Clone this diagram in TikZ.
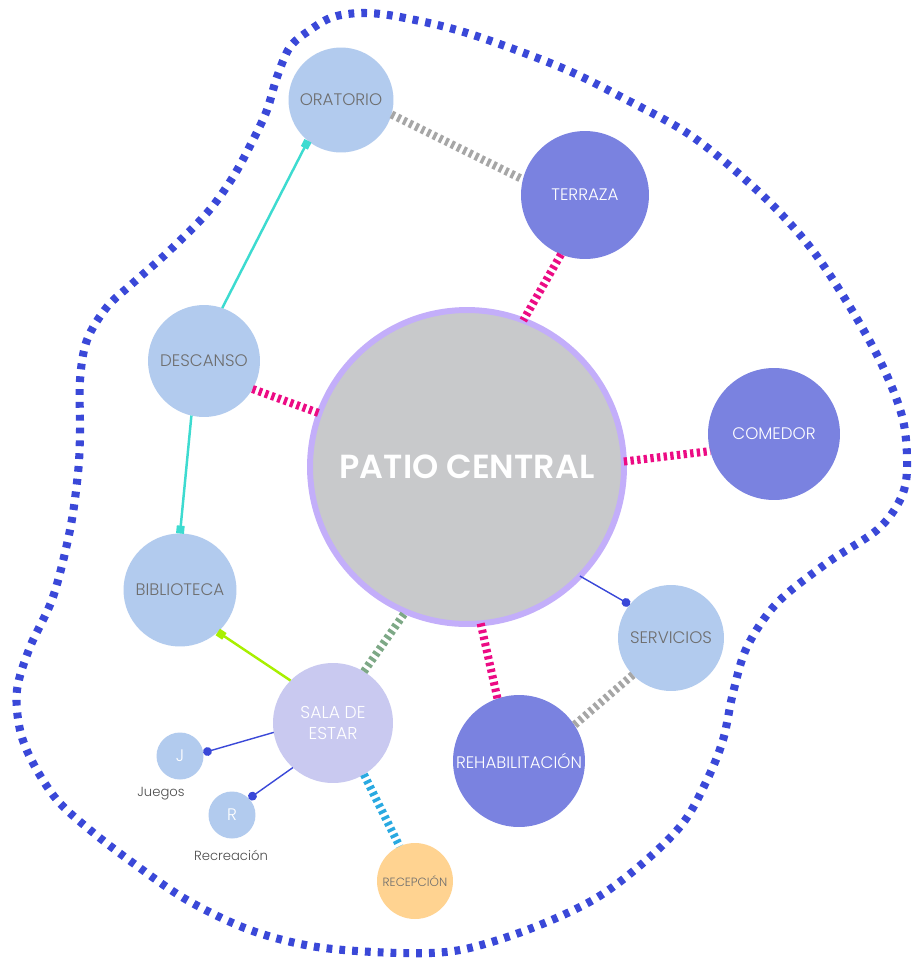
\documentclass[tikz,border=0pt]{standalone}
\usepackage{fontspec}
\setmainfont{Poppins Light}
\newfontfamily\boldf{Poppins SemiBold}
\usetikzlibrary{arrows.meta}
\definecolor{lblue}{HTML}{B2CBEE}
\definecolor{dblue}{HTML}{7A82E0}
\definecolor{salac}{HTML}{C9C9F0}
\definecolor{recc}{HTML}{FFD391}
\definecolor{patiof}{HTML}{C8C9CB}
\definecolor{patiob}{HTML}{C3AEFA}
\definecolor{txtg}{HTML}{6E6E6E}
\definecolor{magc}{HTML}{EC0B84}
\definecolor{grayc}{HTML}{A6A6A6}
\definecolor{greenc}{HTML}{7DA886}
\definecolor{skyc}{HTML}{29A9E1}
\definecolor{cyanc}{HTML}{3DDBD0}
\definecolor{limec}{HTML}{A8F000}
\definecolor{bluec}{HTML}{3A48D8}
\tikzset{
  circ/.style={circle, inner sep=0pt, outer sep=0pt, align=center, font=\fontsize{9.5}{11.5}\selectfont},
  lightnode/.style={circ, fill=lblue, text=txtg},
  darknode/.style={circ, fill=dblue, text=white},
  blobline/.style={draw=bluec, line width=4.6pt, dash pattern=on 3.3pt off 4pt},
  thickdash/.style={line width=4.6pt, dash pattern=on 1.9pt off 1.9pt},
  magdash/.style={thickdash, draw=magc},
  graydash/.style={thickdash, draw=grayc},
  greendash/.style={thickdash, draw=greenc},
  skydash/.style={thickdash, draw=skyc},
  sqlink/.style={line width=1.4pt, -{Square[length=4.5pt,width=4.5pt]}},
  dotlink/.style={draw=bluec, line width=0.8pt, -{Circle[length=5pt]}},
  smalllabel/.style={font=\fontsize{7.5}{9}\selectfont, text=black!70}
}
\begin{document}
\begin{tikzpicture}[x=0.02cm,y=-0.02cm]
\useasboundingbox (0,0) rectangle (919,961);
\fill[white] (0,0) rectangle (919,961);
% outer boundary
\draw[blobline] plot[smooth cycle, tension=0.55] coordinates {
(363,13) (400,17) (467,33) (560,67) (627,100) (693,137) (760,193) (810,247)
(850,307) (883,367) (903,420) (907,470) (900,500) (877,530) (827,563) (777,603)
(747,647) (733,693) (723,740) (707,780) (683,823) (643,863) (593,900) (527,930)
(460,950) (400,953) (317,947) (250,930) (187,900) (133,863) (90,830) (57,800)
(33,763) (20,730) (17,690) (30,647) (53,597) (70,530) (78,473) (80,433)
(80,380) (87,340) (107,307) (133,283) (167,253) (207,213) (233,177) (253,140)
(267,110) (277,77) (290,47) (310,30) (333,17)};
% nodes
\node[circ, fill=patiof, draw=patiob, line width=3.4pt, minimum size=6.28cm, text=white,
      font=\boldf\fontsize{19}{21}\selectfont] (patio) at (467,467) {PATIO CENTRAL};
\node[lightnode, minimum size=2.1cm] (orat) at (341,100) {ORATORIO};
\node[darknode, minimum size=2.56cm] (terr) at (585,195) {TERRAZA};
\node[lightnode, minimum size=2.24cm] (desc) at (204,361) {DESCANSO};
\node[darknode, minimum size=2.64cm] (come) at (774,434) {COMEDOR};
\node[lightnode, minimum size=2.26cm] (bibl) at (180,590) {BIBLIOTECA};
\node[lightnode, minimum size=2.12cm] (serv) at (671,638) {SERVICIOS};
\node[darknode, minimum size=2.64cm] (rehab) at (519,761) {REHABILITACIÓN};
\node[circ, fill=salac, text=white, minimum size=2.4cm, font=\fontsize{9.8}{11.5}\selectfont] (sala) at (333,723) {SALA DE\\ESTAR};
\node[lightnode, text=white, minimum size=0.94cm] (jn) at (180,756) {J};
\node[lightnode, text=white, minimum size=0.94cm] (rn) at (232,815) {R};
\node[circ, fill=recc, text=txtg, minimum size=1.52cm, font=\fontsize{6.8}{8}\selectfont] (rece) at (415,881) {RECEPCIÓN};
\node[smalllabel] (jl) at (161,794) {Juegos};
\node[smalllabel] (rl) at (231,855) {Recreación};
% dashed connectors
\draw[graydash] (orat.-16) -- (terr.166);
\draw[magdash] (terr.248) -- (patio.69);
\draw[magdash] (desc.-30) -- (patio.160);
\draw[magdash] (patio.2) -- (come.195);
\draw[magdash] (patio.275) -- (rehab.109);
\draw[graydash] (serv.224) -- (rehab.33);
\draw[greendash] (sala.59) -- (patio.247);
\draw[skydash] (sala.-59) -- (rece.114);
% solid connectors
\draw[sqlink, draw=cyanc, cyanc] (desc.71) -- (orat.231);
\draw[sqlink, draw=cyanc, cyanc] (desc.257) -- (bibl.90);
\draw[sqlink, draw=limec, limec] (sala.135) -- (bibl.-48);
\draw[dotlink, bluec] (patio.-44) -- (serv.141);
\draw[dotlink, bluec] (sala.189) -- (jn.8);
\draw[dotlink, bluec] (sala.228) -- (rn.44);
\end{tikzpicture}
\end{document}
